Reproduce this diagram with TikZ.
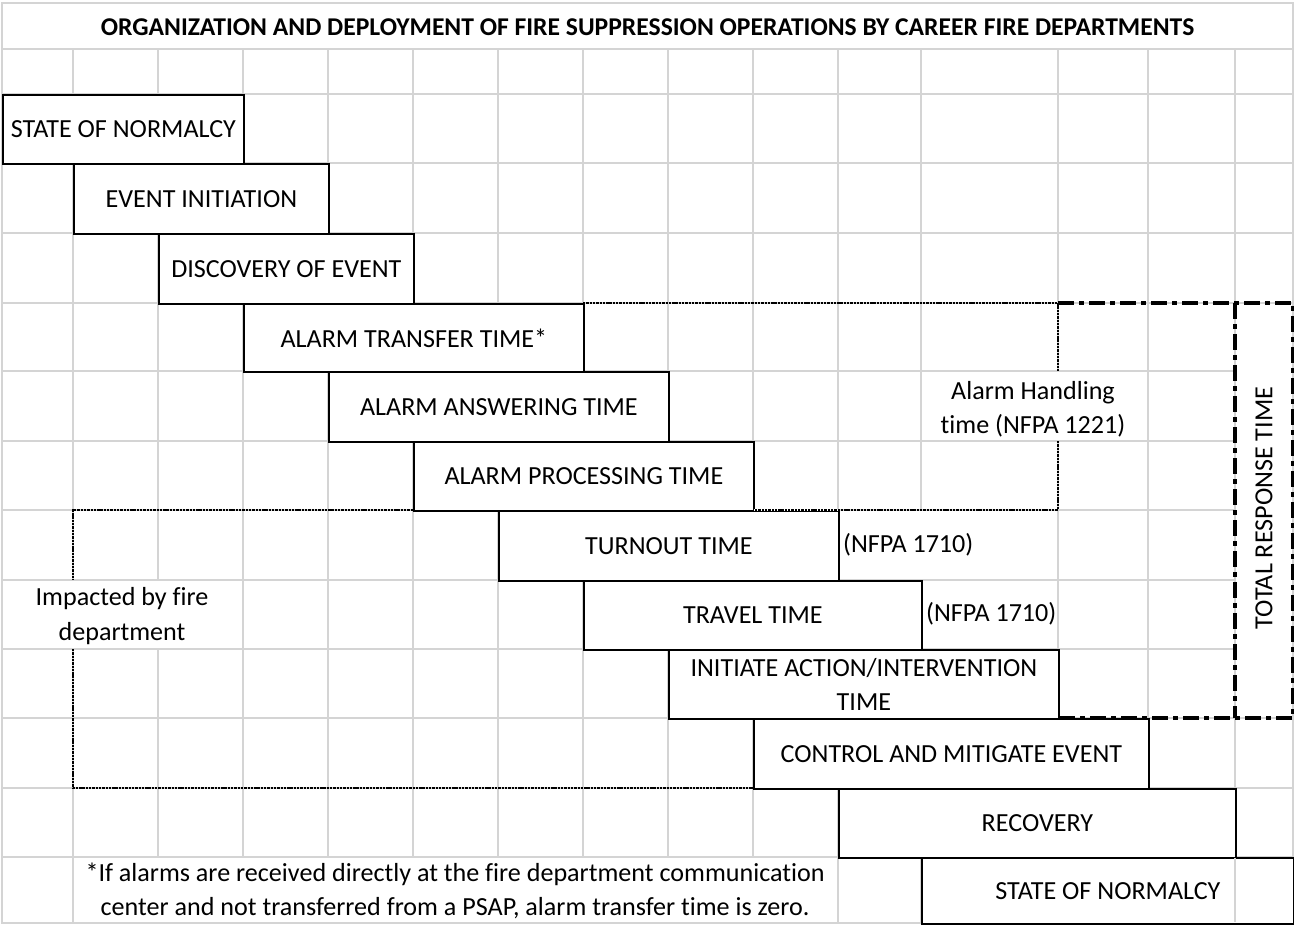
\documentclass[tikz,border=0pt]{standalone}
\usepackage{fontspec}
\setmainfont{Carlito}[Ligatures={NoCommon}]
\definecolor{gridgray}{RGB}{212,212,212}
\newcommand\stagefont{\fontsize{26.1}{34.5}\selectfont}
\newcommand\headfont{\fontsize{25.6}{30}\selectfont\bfseries}
\begin{document}
\begin{tikzpicture}[x=1pt,y=-1pt,
  gridline/.style={draw=gridgray, line width=1.3pt},
  stagebox/.style={draw=black, fill=white, line width=1.8pt, inner sep=0pt,
    anchor=north west, align=center, font=\stagefont},
  note/.style={inner sep=0pt, align=center, font=\stagefont},
  dotline/.style={draw=black, line width=1.7pt, dash pattern=on 2.4pt off 0.9pt},
  dashdotline/.style={draw=black, line width=3.2pt, dash pattern=on 16pt off 5pt on 5pt off 5pt}]

\useasboundingbox (0,0) rectangle (1294,925);
\fill[white] (0,0) rectangle (1294,925);

% spreadsheet grid
\draw[gridline] (2,3) rectangle (1293,923);
\foreach \y in {49,94,163,233,303,718,788,857}
  \draw[gridline] (2,\y) -- (1293,\y);
\foreach \y in {371,441,510,580,649}
  \draw[gridline] (2,\y) -- (1235,\y);
\draw[gridline] (73,49) -- (73,580) (73,649) -- (73,923);
\draw[gridline] (158,49) -- (158,580) (158,649) -- (158,857);
\foreach \x in {243,328,413,498,583,668,753}
  \draw[gridline] (\x,49) -- (\x,857);
\draw[gridline] (838,49) -- (838,923);
\draw[gridline] (921,49) -- (921,510) (921,580) -- (921,923);
\draw[gridline] (1058,49) -- (1058,371) (1058,441) -- (1058,923);
\draw[gridline] (1148,49) -- (1148,923);
\draw[gridline] (1235,49) -- (1235,923);

% title
\node[inner sep=0pt, font=\headfont] (title) at (647.5,27)
  {ORGANIZATION AND DEPLOYMENT OF FIRE SUPPRESSION OPERATIONS BY CAREER FIRE DEPARTMENTS};

% stages
\node[stagebox, minimum width=241pt, minimum height=69pt] (s1) at (2,94) {STATE OF NORMALCY};
\node[stagebox, minimum width=255pt, minimum height=70pt] (s2) at (73,163) {EVENT INITIATION};
\node[stagebox, minimum width=255pt, minimum height=70pt] (s3) at (158,233) {DISCOVERY OF EVENT};
\node[stagebox, minimum width=340pt, minimum height=68pt] (s4) at (243,303) {ALARM TRANSFER TIME*};
\node[stagebox, minimum width=340pt, minimum height=70pt] (s5) at (328,371) {ALARM ANSWERING TIME};
\node[stagebox, minimum width=340pt, minimum height=69pt] (s6) at (413,441) {ALARM PROCESSING TIME};
\node[stagebox, minimum width=340pt, minimum height=70pt] (s7) at (498,510) {TURNOUT TIME};
\node[stagebox, minimum width=338pt, minimum height=69pt] (s8) at (583,580) {TRAVEL TIME};
\node[stagebox, minimum width=390pt, minimum height=69pt] (s9) at (668,649) {INITIATE ACTION/INTERVENTION\\TIME};
\node[stagebox, minimum width=395pt, minimum height=70pt] (s10) at (753,718) {CONTROL AND MITIGATE EVENT};
\node[stagebox, minimum width=397pt, minimum height=69pt] (s11) at (838,788) {RECOVERY};
\node[stagebox, minimum width=372pt, minimum height=66pt] (s12) at (921,857) {STATE OF NORMALCY};
\draw[gridline] (1235,858) -- (1235,922);

% alarm handling outline
\draw[dotline] (583,303) -- (1058,303) -- (1058,371);
\draw[white, line width=2pt] (754,510) -- (838,510);
\draw[dotline] (1058,441) -- (1058,510) -- (753,510);

% fire department outline
\draw[dotline] (413,510) -- (73,510) -- (73,580);
\draw[dotline] (73,649) -- (73,788) -- (753,788);

% total response time outline
\draw[dashdotline] (1058,303) -- (1293,303) -- (1293,718) -- (1058,718);
\draw[dashdotline] (1235,303) -- (1235,718);

% labels
\node[note] (handling) at (1033,409) {Alarm Handling\\time (NFPA 1221)};
\node[note, anchor=west] (nfpa1) at (843,545) {(NFPA 1710)};
\node[note, anchor=west] (nfpa2) at (926,614) {(NFPA 1710)};
\node[note] (impact) at (122,616) {Impacted by fire\\department};
\node[note, rotate=90] (total) at (1264,508) {TOTAL RESPONSE TIME};
\node[note] (foot) at (455,891) {*If alarms are received directly at the fire department communication\\center and not transferred from a PSAP, alarm transfer time is zero.};
\end{tikzpicture}
\end{document}
